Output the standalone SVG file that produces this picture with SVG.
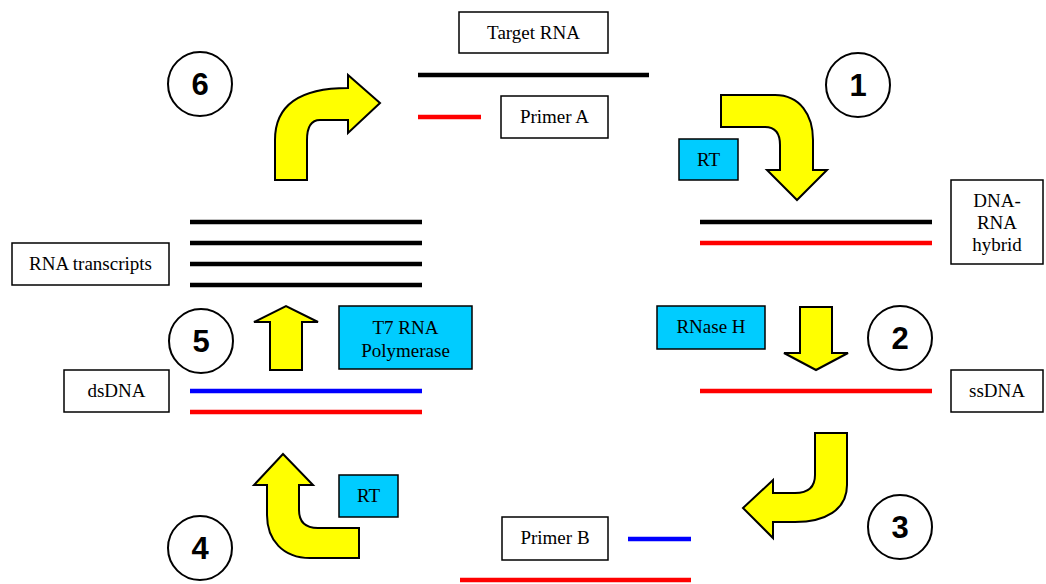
<svg xmlns="http://www.w3.org/2000/svg" width="1046" height="584" viewBox="0 0 1046 584">
<style>
.box{fill:#fff;stroke:#000;stroke-width:1.5}
.blue{fill:#00ccff;stroke:#000;stroke-width:1.5}
.lbl{font-family:"Liberation Serif","Times New Roman",serif;font-size:19px;fill:#000;text-anchor:middle}
.num{font-family:"Liberation Sans",Arial,sans-serif;font-size:31px;font-weight:bold;fill:#000;text-anchor:middle}
.circ{fill:#fff;stroke:#000;stroke-width:2}
.arr{fill:#ffff00;stroke:#000;stroke-width:2;stroke-linejoin:miter}
.k{stroke:#000;stroke-width:4.5}
.r{stroke:#ff0000;stroke-width:4.5}
.b{stroke:#0000ff;stroke-width:4.5}
</style>
<rect width="1046" height="584" fill="#fff"/>
<g id="connectors">
<path class="arr" d="M275,180 L275,140 C275,105 300,88 348,88 L348,75 L380,103 L348,133 L348,120 L320,120 C310,120 307,128 307,140 L307,180 Z"/>
<path class="arr" d="M721,95 L775,95 C800,95 813,115 813,140 L813,170 L827,170 L797,200 L767,170 L780,170 L780,145 C780,133 775,127 765,127 L721,127 Z"/>
<path class="arr" d="M800,307 L832,307 L832,353 L848,353 L816,370 L784,353 L800,353 Z"/>
<path class="arr" d="M815,433 L847,433 L847,485 C847,510 825,522 795,522 L773,522 L773,538 L743,508 L773,480 L773,493 L795,493 C808,493 815,487 815,475 Z"/>
<path class="arr" d="M283,454 L313,485 L299,485 L299,510 C299,522 305,528 318,528 L359,528 L359,558 L310,558 C283,558 267,540 267,515 L267,485 L254,485 Z"/>
<path class="arr" d="M270,370 L302,370 L302,322 L318,322 L286,306 L254,322 L270,322 Z"/>
</g>
<g id="strands">
<line class="k" x1="418" y1="75" x2="649" y2="75"/>
<line class="r" x1="418" y1="117" x2="481" y2="117"/>
<line class="k" x1="700" y1="222" x2="932" y2="222"/>
<line class="r" x1="700" y1="243" x2="932" y2="243"/>
<line class="k" x1="190" y1="222" x2="422" y2="222"/>
<line class="k" x1="190" y1="243" x2="422" y2="243"/>
<line class="k" x1="190" y1="264" x2="422" y2="264"/>
<line class="k" x1="190" y1="285" x2="422" y2="285"/>
<line class="r" x1="700" y1="391" x2="932" y2="391"/>
<line class="b" x1="190" y1="391" x2="422" y2="391"/>
<line class="r" x1="190" y1="412" x2="422" y2="412"/>
<line class="b" x1="628" y1="539" x2="691" y2="539"/>
<line class="r" x1="460" y1="580" x2="691" y2="580"/>
</g>
<g id="target-rna"><rect class="box" x="459" y="12" width="149" height="41"/><text class="lbl" x="533.5" y="39">Target RNA</text></g>
<g id="primer-a"><rect class="box" x="501" y="96" width="107" height="42"/><text class="lbl" x="554.5" y="123">Primer A</text></g>
<g id="rt-top"><rect class="blue" x="679" y="139" width="59" height="41"/><text class="lbl" x="708.5" y="166">RT</text></g>
<g id="hybrid"><rect class="box" x="951" y="180" width="92" height="84"/><text class="lbl" x="997" y="207">DNA-</text><text class="lbl" x="997" y="229">RNA</text><text class="lbl" x="997" y="251">hybrid</text></g>
<g id="transcripts"><rect class="box" x="12" y="243" width="157" height="42"/><text class="lbl" x="90.5" y="270">RNA transcripts</text></g>
<g id="rnase"><rect class="blue" x="657" y="306" width="108" height="43"/><text class="lbl" x="711" y="333">RNase H</text></g>
<g id="t7"><rect class="blue" x="339" y="306" width="133" height="63"/><text class="lbl" x="405.5" y="334">T7 RNA</text><text class="lbl" x="405.5" y="357">Polymerase</text></g>
<g id="dsdna"><rect class="box" x="64" y="370" width="105" height="42"/><text class="lbl" x="116.5" y="397">dsDNA</text></g>
<g id="ssdna"><rect class="box" x="951" y="370" width="92" height="42"/><text class="lbl" x="997" y="397">ssDNA</text></g>
<g id="rt-bottom"><rect class="blue" x="339" y="475" width="59" height="42"/><text class="lbl" x="368.5" y="502">RT</text></g>
<g id="primer-b"><rect class="box" x="502" y="517" width="106" height="43"/><text class="lbl" x="555" y="544">Primer B</text></g>
<g id="step1"><circle class="circ" cx="858" cy="85" r="32"/><text class="num" x="858" y="96">1</text></g>
<g id="step2"><circle class="circ" cx="900" cy="338" r="32"/><text class="num" x="900" y="349">2</text></g>
<g id="step3"><circle class="circ" cx="900" cy="527" r="32"/><text class="num" x="900" y="538">3</text></g>
<g id="step4"><circle class="circ" cx="200" cy="548" r="32"/><text class="num" x="200" y="559">4</text></g>
<g id="step5"><circle class="circ" cx="201" cy="341" r="32"/><text class="num" x="201" y="352">5</text></g>
<g id="step6"><circle class="circ" cx="200" cy="84" r="32"/><text class="num" x="200" y="95">6</text></g>
</svg>
